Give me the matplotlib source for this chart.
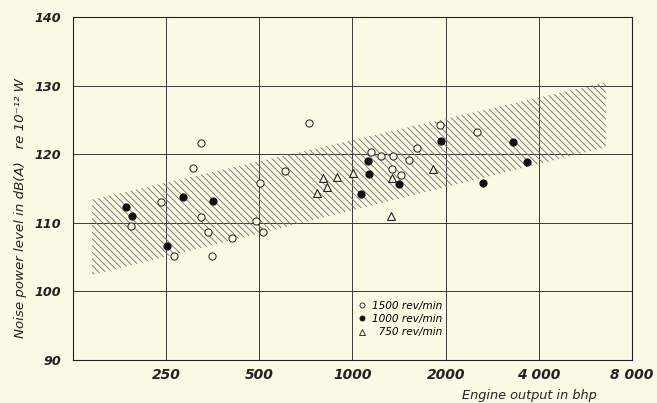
import matplotlib
matplotlib.use("Agg")
import matplotlib.pyplot as plt
from matplotlib.lines import Line2D
from matplotlib.ticker import NullLocator

# engine output (bhp) and noise power level dB(A) for each engine speed
open_x = [192, 240, 265, 306, 325, 323, 342, 352, 409, 487, 512, 502, 605, 725,
          1144, 1232, 1354, 1518, 1611, 1337, 1430, 1916, 2516]
open_y = [109.6, 113.1, 105.2, 118.0, 121.7, 110.8, 108.6, 105.1, 107.8, 110.2, 108.7, 115.8, 117.6, 124.5,
          120.3, 119.8, 119.8, 119.1, 120.9, 117.9, 117.0, 124.3, 123.3]

filled_x = [185, 194, 252, 284, 355, 1062, 1126, 1130, 1413, 1925, 2650, 3300, 3660]
filled_y = [112.3, 111.0, 106.6, 113.8, 113.2, 114.2, 119.0, 117.1, 115.6, 121.9, 115.8, 121.8, 118.9]

tri_x = [769, 800, 825, 889, 1003, 1337, 1328, 1823]
tri_y = [114.3, 116.5, 115.2, 116.7, 117.3, 116.5, 111.0, 117.8]

# hatched scatter band
band_x = [144, 6590]
band_lo = [102.4, 121.0]
band_hi = [113.4, 130.5]

x_ticks = [250, 500, 1000, 2000, 4000, 8000]
x_tick_labels = ["250", "500", "1000", "2000", "4 000", "8 000"]
y_ticks = [90, 100, 110, 120, 130, 140]

bg = "#FBF9E4"
ink = "#222222"
plt.rcParams["hatch.linewidth"] = 0.75

fig = plt.figure(figsize=(657 / 80, 403 / 80), dpi=80, facecolor=bg)
ax = fig.add_axes([73 / 657, 1 - 360 / 403, 559 / 657, 343 / 403])
ax.set_facecolor(bg)

ax.fill_between(band_x, band_lo, band_hi, facecolor="none", edgecolor="#6e6e6e",
                hatch="\\\\\\\\", linewidth=0, zorder=1)

ax.scatter(open_x, open_y, s=42, facecolors=bg, edgecolors=ink, linewidths=0.9, zorder=3)
ax.scatter(filled_x, filled_y, s=42, facecolors="#111111", edgecolors="#111111", linewidths=0.9, zorder=3)
ax.scatter(tri_x, tri_y, s=50, marker="^", facecolors=bg, edgecolors=ink, linewidths=1.0, zorder=3)

ax.set_xscale("log", base=2)
ax.set_xlim(125, 8000)
ax.set_ylim(90, 140)
ax.set_xticks(x_ticks)
ax.set_xticklabels(x_tick_labels)
ax.xaxis.set_minor_locator(NullLocator())
ax.set_yticks(y_ticks)
ax.tick_params(length=0, colors=ink)
ax.tick_params(axis="y", pad=11)
ax.tick_params(axis="x", pad=7)
for lab in ax.get_xticklabels():
    lab.set_fontsize(12.5)
    lab.set_fontweight("bold")
    lab.set_fontstyle("italic")
for lab in ax.get_yticklabels():
    lab.set_fontsize(11.5)
    lab.set_fontweight("bold")
    lab.set_fontstyle("italic")

ax.set_axisbelow(True)
ax.grid(True, color="#2a2a2a", linewidth=0.8)
for sp in ax.spines.values():
    sp.set_color(ink)
    sp.set_linewidth(1.0)

handles = [
    Line2D([], [], marker="o", ls="none", mfc="none", mec=ink, ms=4.5, mew=0.8, label="1500 rev/min"),
    Line2D([], [], marker="o", ls="none", mfc="#111111", mec="#111111", ms=4.5, mew=0.8, label="1000 rev/min"),
    Line2D([], [], marker="^", ls="none", mfc="none", mec=ink, ms=5, mew=0.8, label="\u2007750 rev/min"),
]
ax.legend(handles=handles, loc="upper left", bbox_to_anchor=(0.51, 0.172), frameon=False,
          handlelength=0.8, handletextpad=0.5, labelspacing=0.3, borderpad=0, borderaxespad=0,
          prop=dict(style="italic", size=9.5))

fig.text(597 / 657, 1 - 396 / 403, "Engine output in bhp", ha="right", va="center",
         fontsize=11.6, style="italic", color=ink)
fig.text(21 / 657, 1 - 208 / 403, "Noise power level in dB(A)   re 10\u207b\u00b9\u00b2 W",
         rotation=90, ha="center", va="center", fontsize=12, style="italic", color=ink)

fig.savefig("out.png", dpi=80, facecolor=bg)
